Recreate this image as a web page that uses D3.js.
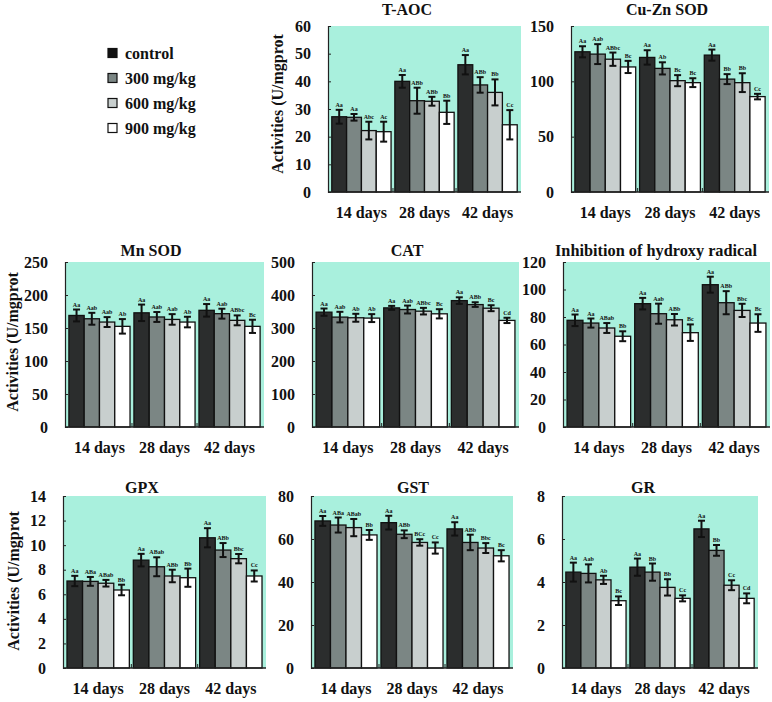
<!DOCTYPE html>
<html>
<head>
<meta charset="utf-8">
<script src="https://cdn.jsdelivr.net/npm/d3@7"></script>
<style>
  body { margin: 0; background: #fff; }
  svg text { font-family: "Liberation Serif", "Times New Roman", serif; font-weight: bold; fill: #111; }
</style>
</head>
<body>
<div id="chart"></div>
<script>
const days = ['14 days', '28 days', '42 days'];
const groups = ['control', '300 mg/kg', '600 mg/kg', '900 mg/kg'];
const groupColors = ['#2b2d2d', '#7b8684', '#c8cfce', '#ffffff'];

// each row = one time point, values in group order
const taocMean = [[27.2, 27.0, 22.2, 21.8], [40.0, 33.0, 32.8, 28.8], [46.0, 38.7, 36.0, 24.3]];
const taocErr  = [[2.5, 1.2, 3.2, 3.6], [2.3, 4.7, 1.6, 4.2], [3.5, 2.8, 4.7, 5.3]];
const taocSig  = [['Aa', 'Aa', 'Abc', 'Ac'], ['Aa', 'ABb', 'ABb', 'Bb'], ['Aa', 'ABb', 'Bb', 'Cc']];

const cuznMean = [[126.7, 124.6, 120.0, 113.0], [121.6, 111.7, 100.6, 98.8], [123.7, 102.0, 98.8, 86.2]];
const cuznErr  = [[5, 9, 6, 5.5], [6.5, 5.5, 5, 4], [5, 4.5, 8.5, 2.5]];
const cuznSig  = [['Aa', 'Aab', 'ABbc', 'Bc'], ['Aa', 'Ab', 'Bc', 'Bc'], ['Aa', 'Bb', 'Bb', 'Cc']];

const mnsodMean = [[169, 164, 159, 152.5], [173, 166.7, 163, 159], [176.8, 171.7, 161.6, 152.5]];
const mnsodErr  = [[9, 9, 7.5, 11], [12.5, 7.5, 8, 8], [9.5, 7.5, 7.5, 10]];
const mnsodSig  = [['Aa', 'Aab', 'Aab', 'Ab'], ['Aa', 'Aab', 'Aab', 'Ab'], ['Aa', 'Aab', 'ABbc', 'Bc']];

const catMean = [[348, 333, 331, 330], [361, 356, 351, 343], [383, 371, 360, 323]];
const catErr  = [[11, 16, 12, 12], [6, 12, 10, 14], [10, 7, 9, 8]];
const catSig  = [['Aa', 'Aab', 'Ab', 'Ab'], ['Aa', 'Aab', 'ABbc', 'Bc'], ['Aa', 'ABb', 'Bc', 'Cd']];

const ohMean = [[77.6, 75.6, 72.0, 66.0], [89.7, 82.4, 78.0, 68.6], [103.5, 90.4, 84.8, 75.6]];
const ohErr  = [[4.2, 3.3, 3.6, 3.6], [4.2, 7.3, 4.2, 6.0], [5.8, 8.4, 4.8, 6.4]];
const ohSig  = [['Aa', 'Aa', 'ABab', 'Bb'], ['Aa', 'Aab', 'ABb', 'Bc'], ['Aa', 'ABb', 'Bbc', 'Bc']];

const gpxMean = [[7.08, 7.05, 6.9, 6.35], [8.78, 8.24, 7.49, 7.35], [10.6, 9.6, 8.9, 7.49]];
const gpxErr  = [[0.42, 0.36, 0.27, 0.43], [0.51, 0.77, 0.51, 0.74], [0.78, 0.57, 0.38, 0.45]];
const gpxSig  = [['Aa', 'ABa', 'ABab', 'Bb'], ['Aa', 'ABab', 'ABb', 'Bb'], ['Aa', 'ABb', 'Bbc', 'Cc']];

const gstMean = [[68.4, 66.5, 65.3, 61.9], [67.6, 62.2, 58.4, 55.8], [64.7, 58.4, 55.8, 52.2]];
const gstErr  = [[2.3, 3.5, 4.0, 2.3], [3.2, 1.8, 1.5, 2.6], [3.1, 3.6, 2.3, 2.6]];
const gstSig  = [['Aa', 'ABa', 'ABab', 'Bb'], ['Aa', 'ABb', 'BCc', 'Cc'], ['Aa', 'ABb', 'Bbc', 'Bc']];

const grMean = [[4.46, 4.40, 4.10, 3.13], [4.69, 4.46, 3.75, 3.24], [6.47, 5.47, 3.85, 3.24]];
const grErr  = [[0.44, 0.42, 0.19, 0.2], [0.4, 0.4, 0.38, 0.14], [0.38, 0.25, 0.23, 0.23]];
const grSig  = [['Aa', 'Aab', 'Ab', 'Bc'], ['Aa', 'Bb', 'Bb', 'Cc'], ['Aa', 'Bb', 'Cc', 'Cd']];

const yLabel = 'Activities (U/mgprot';

// panel layout
const panels = [
    { title: 'T-AOC', mean: taocMean, err: taocErr, sig: taocSig, max: 60, step: 10,
      x0: 328, x1: 521, top: 26, bottom: 192, titleX: 407, titleY: 15 },
    { title: 'Cu-Zn SOD', mean: cuznMean, err: cuznErr, sig: cuznSig, max: 150, step: 50,
      x0: 571, x1: 769, top: 26, bottom: 192, titleX: 667, titleY: 15 },
    { title: 'Mn SOD', mean: mnsodMean, err: mnsodErr, sig: mnsodSig, max: 250, step: 50,
      x0: 65, x1: 264, top: 262, bottom: 427, titleX: 151, titleY: 256 },
    { title: 'CAT', mean: catMean, err: catErr, sig: catSig, max: 500, step: 100,
      x0: 312, x1: 519, top: 262, bottom: 427, titleX: 407, titleY: 256 },
    { title: 'Inhibition of hydroxy radical', mean: ohMean, err: ohErr, sig: ohSig, max: 120, step: 20,
      x0: 563, x1: 770, top: 262, bottom: 427, titleX: 656, titleY: 256, titleLen: 202 },
    { title: 'GPX', mean: gpxMean, err: gpxErr, sig: gpxSig, max: 14, step: 2,
      x0: 63, x1: 266, top: 496, bottom: 668, titleX: 142, titleY: 493 },
    { title: 'GST', mean: gstMean, err: gstErr, sig: gstSig, max: 80, step: 20,
      x0: 311, x1: 513, top: 496, bottom: 668, titleX: 413, titleY: 493 },
    { title: 'GR', mean: grMean, err: grErr, sig: grSig, max: 8, step: 2,
      x0: 562, x1: 758, top: 496, bottom: 668, titleX: 643, titleY: 493 }
];

const yLabels = [
    { x: 277, y: 104 },
    { x: 12, y: 342 },
    { x: 13, y: 581 }
];

const svg = d3.select('#chart').append('svg')
    .attr('width', 772)
    .attr('height', 702);

function drawPanel(p) {
    const g = svg.append('g');

    const x = d3.scaleBand()
        .domain(days)
        .range([p.x0, p.x1])
        .paddingInner(0.06)
        .paddingOuter(0.06);

    const xi = d3.scaleBand()
        .domain(groups)
        .range([0, x.bandwidth()]);

    const y = d3.scaleLinear()
        .domain([0, p.max])
        .range([p.bottom, p.top]);

    g.append('rect')
        .attr('x', p.x0)
        .attr('y', p.top)
        .attr('width', p.x1 - p.x0)
        .attr('height', p.bottom - p.top)
        .attr('fill', '#a9f0dd');

    // y axis: inward ticks, labels set apart on the left
    const ticks = d3.range(0, p.max + p.step / 2, p.step);
    const yAxis = g.append('g')
        .attr('transform', `translate(${p.x0},0)`)
        .call(d3.axisRight(y).tickValues(ticks).tickSize(3).tickFormat(''));
    yAxis.select('.domain').attr('stroke', '#222').attr('stroke-width', 1.2);
    yAxis.selectAll('.tick line').attr('stroke', '#222');

    g.selectAll('.ytick')
        .data(ticks)
        .enter().append('text')
        .attr('x', p.x0 - 17)
        .attr('y', d => y(d))
        .attr('dy', '0.35em')
        .attr('text-anchor', 'end')
        .style('font-size', '16px')
        .text(d => d);

    const rows = days.map((d, i) => groups.map((grp, j) => ({
        day: d, group: grp, idx: j,
        mean: p.mean[i][j], err: p.err[i][j], sig: p.sig[i][j]
    })));
    const items = rows.flat();

    g.selectAll('.bar')
        .data(items)
        .enter().append('rect')
        .attr('x', d => x(d.day) + xi(d.group))
        .attr('y', d => y(d.mean))
        .attr('width', xi.bandwidth())
        .attr('height', d => y(0) - y(d.mean))
        .attr('fill', d => groupColors[d.idx])
        .attr('stroke', '#111')
        .attr('stroke-width', 1.3);

    const cap = 3.5;
    const eb = g.selectAll('.eb')
        .data(items)
        .enter().append('g')
        .attr('stroke', '#111')
        .attr('stroke-width', 2);
    const cx = d => x(d.day) + xi(d.group) + xi.bandwidth() / 2;
    eb.append('line')
        .attr('x1', cx).attr('x2', cx)
        .attr('y1', d => y(d.mean + d.err))
        .attr('y2', d => y(d.mean - d.err));
    eb.append('line')
        .attr('x1', d => cx(d) - cap).attr('x2', d => cx(d) + cap)
        .attr('y1', d => y(d.mean + d.err))
        .attr('y2', d => y(d.mean + d.err));
    eb.append('line')
        .attr('x1', d => cx(d) - cap).attr('x2', d => cx(d) + cap)
        .attr('y1', d => y(d.mean - d.err))
        .attr('y2', d => y(d.mean - d.err));

    g.selectAll('.sig')
        .data(items)
        .enter().append('text')
        .attr('x', cx)
        .attr('y', d => y(d.mean + d.err) - 3)
        .attr('text-anchor', 'middle')
        .style('font-size', '6px')
        .text(d => d.sig);

    // bottom axis line and small ticks between groups
    g.append('line')
        .attr('x1', p.x0).attr('x2', p.x1)
        .attr('y1', p.bottom).attr('y2', p.bottom)
        .attr('stroke', '#222')
        .attr('stroke-width', 1.5);

    const step = x.step();
    g.selectAll('.sep')
        .data(days.slice(1))
        .enter().append('line')
        .attr('x1', d => x(d) - (step - x.bandwidth()) / 2)
        .attr('x2', d => x(d) - (step - x.bandwidth()) / 2)
        .attr('y1', p.bottom)
        .attr('y2', p.bottom - 4)
        .attr('stroke', '#222')
        .attr('stroke-width', 1);

    g.selectAll('.xlab')
        .data(days)
        .enter().append('text')
        .attr('x', d => x(d) + x.bandwidth() / 2)
        .attr('y', p.bottom + 26)
        .attr('text-anchor', 'middle')
        .style('font-size', '16px')
        .text(d => d);

    const t = g.append('text')
        .attr('x', p.titleX)
        .attr('y', p.titleY)
        .attr('text-anchor', 'middle')
        .style('font-size', '16px')
        .text(p.title);
    if (p.titleLen) t.attr('textLength', p.titleLen).attr('lengthAdjust', 'spacingAndGlyphs');
}

panels.forEach(drawPanel);

yLabels.forEach(l => {
    svg.append('text')
        .attr('transform', `translate(${l.x},${l.y}) rotate(-90)`)
        .attr('dy', '0.35em')
        .attr('text-anchor', 'middle')
        .style('font-size', '16px')
        .text(yLabel);
});

// legend
const legend = svg.append('g').attr('transform', 'translate(108,53)');
const li = legend.selectAll('g')
    .data(groups)
    .enter().append('g')
    .attr('transform', (d, i) => `translate(0,${i * 25})`);
li.append('rect')
    .attr('x', 0).attr('y', -4.5)
    .attr('width', 9).attr('height', 9)
    .attr('fill', (d, i) => i === 0 ? '#111' : groupColors[i])
    .attr('stroke', '#111')
    .attr('stroke-width', 1.2);
li.append('text')
    .attr('x', 17)
    .attr('dy', '0.35em')
    .style('font-size', '16px')
    .text(d => d);
</script>
</body>
</html>
